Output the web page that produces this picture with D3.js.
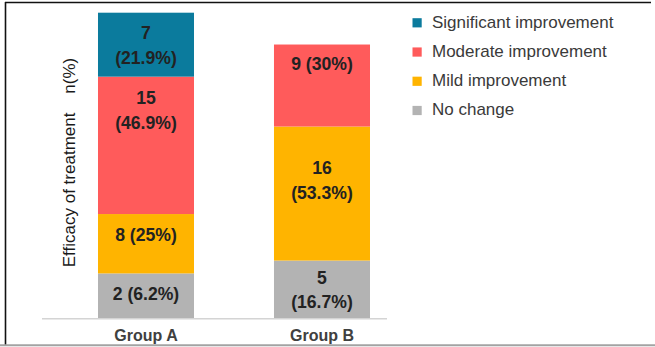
<!DOCTYPE html>
<html>
<head>
<meta charset="utf-8">
<script src="https://cdn.jsdelivr.net/npm/d3@7"></script>
<style>
  html, body { margin: 0; padding: 0; background: #ffffff; }
  svg { display: block; font-family: "Liberation Sans", Arial, sans-serif; }
</style>
</head>
<body>
<svg id="chart" width="655" height="347"></svg>
<script>
// ---------------- data ----------------
const groups = ["Group A", "Group B"];
// stack order, bottom to top
const categories = ["No change", "Mild improvement", "Moderate improvement", "Significant improvement"];
const legendOrder = ["Significant improvement", "Moderate improvement", "Mild improvement", "No change"];
const countsA = [2, 8, 15, 7];
const countsB = [5, 16, 9, 0];
const pctA = ["6.2%", "25%", "46.9%", "21.9%"];
const pctB = ["16.7%", "53.3%", "30%", ""];
// plotted segment heights as drawn in the picture (share of the full plot height)
const heightsA = [14.8, 19.4, 44.9, 20.9];
const heightsB = [19.0, 43.8, 26.8, 0];
// where each label block sits, in the same units
const labelAtA = [8.2, 27.4, 68.1, 89.4];
const labelAtB = [9.5, 45.3, 83.5, 0];
// whether label is split on two lines
const twoLineA = [false, false, true, true];
const twoLineB = [true, true, false, false];
const colors = ["#b3b3b3", "#ffb400", "#ff5b5b", "#0b7b9d"];
const yTitle = "Efficacy of treatment    n(%)";

// ---------------- chart ----------------
const svg = d3.select("#chart");

// frame
svg.append("line").attr("x1", 5).attr("x2", 651).attr("y1", 2.5).attr("y2", 2.5)
  .attr("stroke", "#111").attr("stroke-width", 1.6);
svg.append("line").attr("x1", 5.5).attr("x2", 5.5).attr("y1", 2).attr("y2", 346)
  .attr("stroke", "#111").attr("stroke-width", 1.6);
svg.append("line").attr("x1", 0).attr("x2", 655).attr("y1", 345.3).attr("y2", 345.3)
  .attr("stroke", "#a3a3a3").attr("stroke-width", 2);

const x = d3.scaleBand().domain(groups).range([42, 387])
  .paddingInner(0.4545).paddingOuter(0.2074).align(0.767);
const y = d3.scaleLinear().domain([0, 100]).range([318.7, 12.7]);
const color = d3.scaleOrdinal().domain(categories).range(colors);

const tableRows = groups.map((g, gi) => {
  const row = { group: g };
  const h = gi === 0 ? heightsA : heightsB;
  categories.forEach((c, ci) => row[c] = h[ci]);
  return row;
});
const stacked = d3.stack().keys(categories)(tableRows);

const layers = svg.append("g").selectAll("g").data(stacked).join("g")
  .attr("fill", d => color(d.key));
layers.selectAll("rect").data(d => d).join("rect")
  .attr("x", d => x(d.data.group))
  .attr("width", x.bandwidth())
  .attr("y", d => y(d[1]))
  .attr("height", d => Math.max(0, y(d[0]) - y(d[1])));

// axis baseline
svg.append("line").attr("x1", 42).attr("x2", 387).attr("y1", y(0)).attr("y2", y(0))
  .attr("stroke", "#d4d4d4").attr("stroke-width", 1.5);

// x axis labels
svg.append("g").selectAll("text").data(groups).join("text")
  .attr("x", d => x(d) + x.bandwidth() / 2)
  .attr("y", 340.5)
  .attr("text-anchor", "middle")
  .attr("font-size", 16).attr("font-weight", "bold").attr("fill", "#404040")
  .text(d => d);

// segment labels
const labels = [];
groups.forEach((g, gi) => {
  const counts = gi === 0 ? countsA : countsB;
  const pcts = gi === 0 ? pctA : pctB;
  const at = gi === 0 ? labelAtA : labelAtB;
  const two = gi === 0 ? twoLineA : twoLineB;
  categories.forEach((c, ci) => {
    if (!counts[ci]) return;
    labels.push({ g, count: counts[ci], pct: pcts[ci], at: at[ci], two: two[ci] });
  });
});
const lg = svg.append("g");
labels.forEach(l => {
  const cx = x(l.g) + x.bandwidth() / 2;
  const cy = y(l.at);
  const lines = l.two ? [String(l.count), "(" + l.pct + ")"] : [l.count + " (" + l.pct + ")"];
  lines.forEach((t, i) => {
    const off = l.two ? (i === 0 ? -12.3 : 12.3) : 0;
    lg.append("text")
      .attr("x", cx).attr("y", cy + off)
      .attr("dy", "0.36em")
      .attr("text-anchor", "middle")
      .attr("font-size", 17.6).attr("font-weight", "bold").attr("fill", "#222222")
      .text(t);
  });
});

// y title
svg.append("text")
  .attr("transform", "translate(74.5," + 162.5 + ") rotate(-90)")
  .attr("text-anchor", "middle")
  .attr("font-size", 17).attr("fill", "#1a1a1a")
  .style("white-space", "pre")
  .text(yTitle);

// legend
const ly = d3.scalePoint().domain(legendOrder).range([22.8, 110.5]);
const leg = svg.append("g").selectAll("g").data(legendOrder).join("g")
  .attr("transform", d => "translate(0," + ly(d) + ")");
leg.append("rect").attr("x", 412.5).attr("y", -4.6).attr("width", 9.2).attr("height", 9.2)
  .attr("fill", d => color(d));
leg.append("text").attr("x", 432).attr("y", 4.8)
  .attr("font-size", 17).attr("fill", "#3a3a3a")
  .text(d => d);
</script>
</body>
</html>
